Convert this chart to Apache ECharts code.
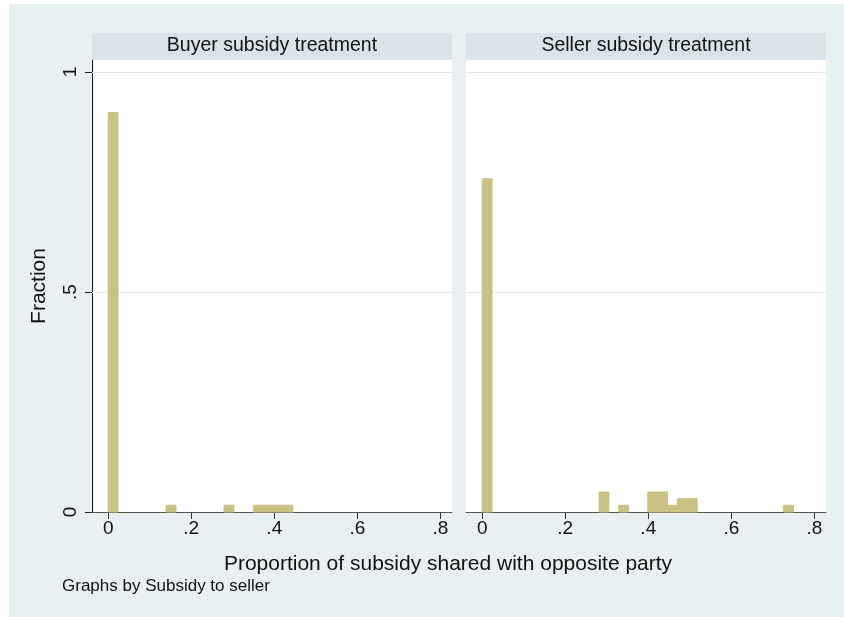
<!DOCTYPE html>
<html>
<head>
<meta charset="utf-8">
<script src="https://cdn.jsdelivr.net/npm/echarts@6/dist/echarts.min.js"></script>
<style>
  html, body { margin: 0; padding: 0; background: #ffffff; }
  #chart { width: 844px; height: 617px; }
</style>
</head>
<body>
<div id="chart"></div>
<script>
// Histogram of the share of the subsidy passed on, one panel per treatment
const panelTitles = ['Buyer subsidy treatment', 'Seller subsidy treatment'];
const xTicks = [0, 0.2, 0.4, 0.6, 0.8];
const yTicks = [0, 0.5, 1];
const binWidth = 0.0238;

// Buyer subsidy panel: left edge of each bin and fraction of observations
const buyerBinLeft = [0, 0.1395, 0.2788, 0.3496, 0.3734, 0.3972, 0.4210];
const buyerFraction = [0.9077, 0.0154, 0.0154, 0.0154, 0.0154, 0.0154, 0.0154];

// Seller subsidy panel
const sellerBinLeft = [0, 0.2814, 0.3289, 0.3988, 0.4226, 0.4464, 0.4702, 0.4940, 0.7258];
const sellerFraction = [0.7576, 0.0455, 0.0152, 0.0455, 0.0455, 0.0152, 0.0303, 0.0303, 0.0152];

const FONT = 'Liberation Sans, Arial, Helvetica, sans-serif';
const BAR_COLOR = '#cac185';
const GRID_LINE = '#e3ebee';

function toBins(lefts, fracs) {
  return lefts.map((l, i) => [l, l + binWidth, fracs[i]]);
}

function tickText(v) {
  if (v === 0) return '0';
  return String(+v.toFixed(2)).replace(/^0\./, '.');
}

function renderBin(params, api) {
  const topLeft = api.coord([api.value(0), api.value(2)]);
  const bottomRight = api.coord([api.value(1), 0]);
  return {
    type: 'rect',
    shape: {
      x: topLeft[0],
      y: topLeft[1],
      width: bottomRight[0] - topLeft[0],
      height: bottomRight[1] - topLeft[1]
    },
    style: { fill: BAR_COLOR, stroke: BAR_COLOR, lineWidth: 1 }
  };
}

const panels = [
  { left: 92, bins: toBins(buyerBinLeft, buyerFraction), showY: true },
  { left: 466, bins: toBins(sellerBinLeft, sellerFraction), showY: false }
];

const grids = [], xAxes = [], yAxes = [], series = [], graphics = [];

// outer background
graphics.push({
  type: 'rect', z: -10, silent: true,
  shape: { x: 9, y: 4, width: 835, height: 613 },
  style: { fill: '#e8f0f2' }
});

panels.forEach((p, i) => {
  grids.push({
    left: p.left, top: 60, width: 360, bottom: 105,
    show: true, backgroundColor: '#ffffff', borderWidth: 0
  });
  // panel header strip
  graphics.push({
    type: 'rect', silent: true, z: 1,
    shape: { x: p.left, y: 33, width: 360, height: 26.5 },
    style: { fill: '#d8e4ea' }
  });
  graphics.push({
    type: 'text', silent: true, z: 2,
    x: p.left + 180, y: 45.5,
    style: {
      text: panelTitles[i], fill: '#111111',
      font: '19.5px ' + FONT, align: 'center', verticalAlign: 'middle'
    }
  });
  xAxes.push({
    type: 'value', gridIndex: i, min: -0.039, max: 0.828,
    axisLine: { show: true, onZero: false, lineStyle: { color: '#555555', width: 1 } },
    axisTick: { show: true, length: 7, customValues: xTicks, lineStyle: { color: '#333333' } },
    axisLabel: {
      customValues: xTicks, formatter: tickText, margin: 7,
      color: '#111111', fontSize: 19, fontFamily: FONT
    },
    splitLine: { show: false }
  });
  yAxes.push({
    type: 'value', gridIndex: i, min: 0, max: 1.0273,
    name: p.showY ? 'Fraction' : '',
    nameLocation: 'middle', nameGap: 42,
    nameTextStyle: { color: '#111111', fontSize: 21, fontFamily: FONT },
    axisLine: { show: p.showY, onZero: false, lineStyle: { color: '#111111', width: 1 } },
    axisTick: { show: p.showY, length: 7, customValues: yTicks, lineStyle: { color: '#222222' } },
    axisLabel: {
      show: p.showY, customValues: yTicks, formatter: tickText, rotate: 90,
      margin: 12, color: '#111111', fontSize: 19, fontFamily: FONT
    },
    splitLine: { show: false }
  });
  series.push({
    type: 'custom', xAxisIndex: i, yAxisIndex: i,
    renderItem: renderBin, data: p.bins, silent: true, z: 3,
    markLine: {
      silent: true, symbol: 'none', z: 1,
      label: { show: false },
      lineStyle: { color: GRID_LINE, type: 'solid', width: 1 },
      data: [{ yAxis: 0.5 }, { yAxis: 1 }]
    }
  });
});

const chart = echarts.init(document.getElementById('chart'), null, { renderer: 'canvas' });
chart.setOption({
  backgroundColor: '#ffffff',
  animation: false,
  title: [
    {
      text: 'Proportion of subsidy shared with opposite party',
      left: 443, top: 549, textAlign: 'center',
      textStyle: { color: '#111111', fontSize: 21, fontWeight: 'normal', fontFamily: FONT }
    },
    {
      text: 'Graphs by Subsidy to seller',
      left: 57, top: 573,
      textStyle: { color: '#111111', fontSize: 17, fontWeight: 'normal', fontFamily: FONT }
    }
  ],
  grid: grids,
  xAxis: xAxes,
  yAxis: yAxes,
  series: series,
  graphic: graphics
});
</script>
</body>
</html>
